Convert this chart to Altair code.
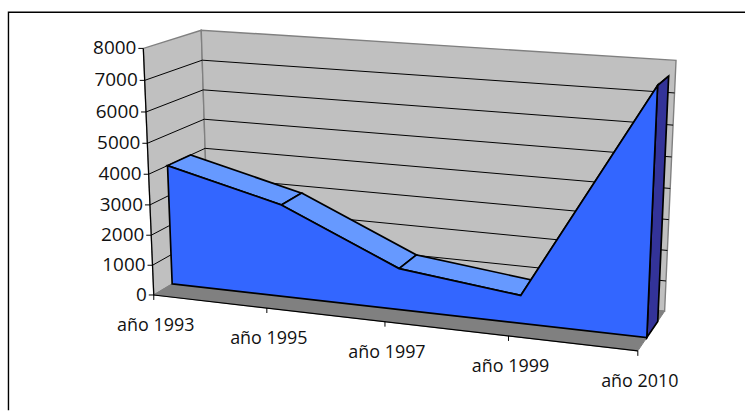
import numpy as np
import pandas as pd
import altair as alt

# Chart data
categories = ["año 1993", "año 1995", "año 1997", "año 1999", "año 2010"]
series_values = [4000, 3050, 1350, 900, 7700]
value_ticks = [0, 1000, 2000, 3000, 4000, 5000, 6000, 7000, 8000]

# Depth slab occupied by the area inside the 3D box
AREA_NEAR, AREA_FAR = 0.32, 0.73
VMAX = 8000
TMAX = len(categories) - 1

# Camera calibration: box corners (category pos, depth, value) and where they appear
box_model = [
    (0, 0, 0), (TMAX, 0, 0), (TMAX, 1, 0), (0, 1, 0),
    (0, 0, VMAX), (0, 1, VMAX), (TMAX, 1, VMAX),
]
box_screen = [
    (154, 293), (640.7, 353), (667, 310), (210, 264.5),
    (144, 48.7), (202, 28.5), (678.7, 60),
]


def fit_camera(model, screen):
    rows = []
    for (t, d, v), (sx, sy) in zip(model, screen):
        p = [t / TMAX, d, v / VMAX, 1]
        rows.append(p + [0, 0, 0, 0] + [-sx * c for c in p])
        rows.append([0, 0, 0, 0] + p + [-sy * c for c in p])
    return np.linalg.svd(np.array(rows))[2][-1].reshape(3, 4)


CAMERA = fit_camera(box_model, box_screen)


def project(t, d, v):
    h = CAMERA @ np.array([t / TMAX, d, v / VMAX, 1.0])
    return float(h[0] / h[2]), float(h[1] / h[2])


X = alt.X("sx:Q", scale=alt.Scale(domain=[0, 748], nice=False, zero=False), axis=None)
Y = alt.Y("sy:Q", scale=alt.Scale(domain=[411, 0], nice=False, zero=False), axis=None)


def frame_of(points):
    return pd.DataFrame(
        [{"sx": x, "sy": y, "i": i} for i, (x, y) in enumerate(points)]
    )


def polygon(points3d, fill, stroke, width=1.0):
    pts = [project(*p) for p in points3d]
    return (
        alt.Chart(frame_of(pts))
        .mark_line(fill=fill, stroke=stroke, strokeWidth=width,
                   interpolate="linear-closed", strokeJoin="miter", clip=False)
        .encode(x=X, y=Y, order="i:Q")
    )


def segment(a, b, color, width=1.0):
    return (
        alt.Chart(frame_of([project(*a), project(*b)]))
        .mark_line(stroke=color, strokeWidth=width)
        .encode(x=X, y=Y, order="i:Q")
    )


def polyline(points, color, width):
    return (
        alt.Chart(frame_of(points))
        .mark_line(stroke=color, strokeWidth=width)
        .encode(x=X, y=Y, order="i:Q")
    )


WALL = "#C0C0C0"
WALL_EDGE = "#808080"
FLOOR = "#808080"
FRONT = "#3366FF"
TOP = "#6699FF"
SIDE = "#333399"
INK = "#000000"

# Page frame: only its top and left edges fall inside the canvas
layers = [polyline([(8.5, 411), (8.5, 11.5), (748, 11.5)], INK, 1.4)]

# Walls and floor
layers.append(polygon([(0, 0, 0), (0, 1, 0), (0, 1, VMAX), (0, 0, VMAX)], WALL, WALL_EDGE, 1.4))
layers.append(polygon([(0, 1, 0), (TMAX, 1, 0), (TMAX, 1, VMAX), (0, 1, VMAX)], WALL, WALL_EDGE, 1.4))
layers.append(polygon([(0, 0, 0), (TMAX, 0, 0), (TMAX, 1, 0), (0, 1, 0)], FLOOR, FLOOR, 1.0))

# Gridlines wrapping the side and back walls
for v in value_ticks[1:-1]:
    layers.append(segment((0, 0, v), (0, 1, v), INK, 1.0))
    layers.append(segment((0, 1, v), (TMAX, 1, v), INK, 1.0))

# Axis lines and tick marks
layers.append(segment((0, 0, 0), (0, 0, VMAX), INK, 1.2))
layers.append(segment((0, 0, 0), (TMAX, 0, 0), INK, 1.2))
for v in value_ticks:
    a = project(0, 0, v)
    layers.append(polyline([a, (a[0] - 5, a[1])], INK, 1.0))
for t in range(TMAX + 1):
    a = project(t, 0, 0)
    layers.append(polyline([a, (a[0], a[1] + 5)], INK, 1.0))

# Top faces of the area, one per segment
for t in range(TMAX):
    layers.append(polygon([
        (t, AREA_NEAR, series_values[t]),
        (t + 1, AREA_NEAR, series_values[t + 1]),
        (t + 1, AREA_FAR, series_values[t + 1]),
        (t, AREA_FAR, series_values[t]),
    ], TOP, INK, 1.7))

# Right-hand end cap of the area
layers.append(polygon([
    (TMAX, AREA_NEAR, 0), (TMAX, AREA_FAR, 0),
    (TMAX, AREA_FAR, series_values[-1]), (TMAX, AREA_NEAR, series_values[-1]),
], SIDE, INK, 1.7))

# Front face of the area
front = [(0, AREA_NEAR, 0), (TMAX, AREA_NEAR, 0)] + [
    (t, AREA_NEAR, series_values[t]) for t in range(TMAX, -1, -1)
]
layers.append(polygon(front, FRONT, INK, 1.7))

# Value labels beside the front edge
value_labels = []
for v in value_ticks:
    sx, sy = project(0, 0, v)
    value_labels.append({"sx": sx - 7, "sy": sy, "label": str(v)})
layers.append(
    alt.Chart(pd.DataFrame(value_labels))
    .mark_text(align="right", baseline="middle", font="Open Sans", fontSize=19, color="#111111")
    .encode(x=X, y=Y, text="label:N")
)

# Category labels under the floor
cat_labels = []
for t, name in enumerate(categories):
    sx, sy = project(t, 0, 0)
    cat_labels.append({"sx": sx + 2, "sy": sy + 31, "label": name})
layers.append(
    alt.Chart(pd.DataFrame(cat_labels))
    .mark_text(align="center", baseline="middle", font="Open Sans", fontSize=18, color="#111111")
    .encode(x=X, y=Y, text="label:N")
)

chart = (
    alt.layer(*layers)
    .properties(width=748, height=411, padding=0, background="white")
    .configure_view(stroke=None)
)
chart.save("out.html", embed_options={"renderer": "svg", "actions": False})
